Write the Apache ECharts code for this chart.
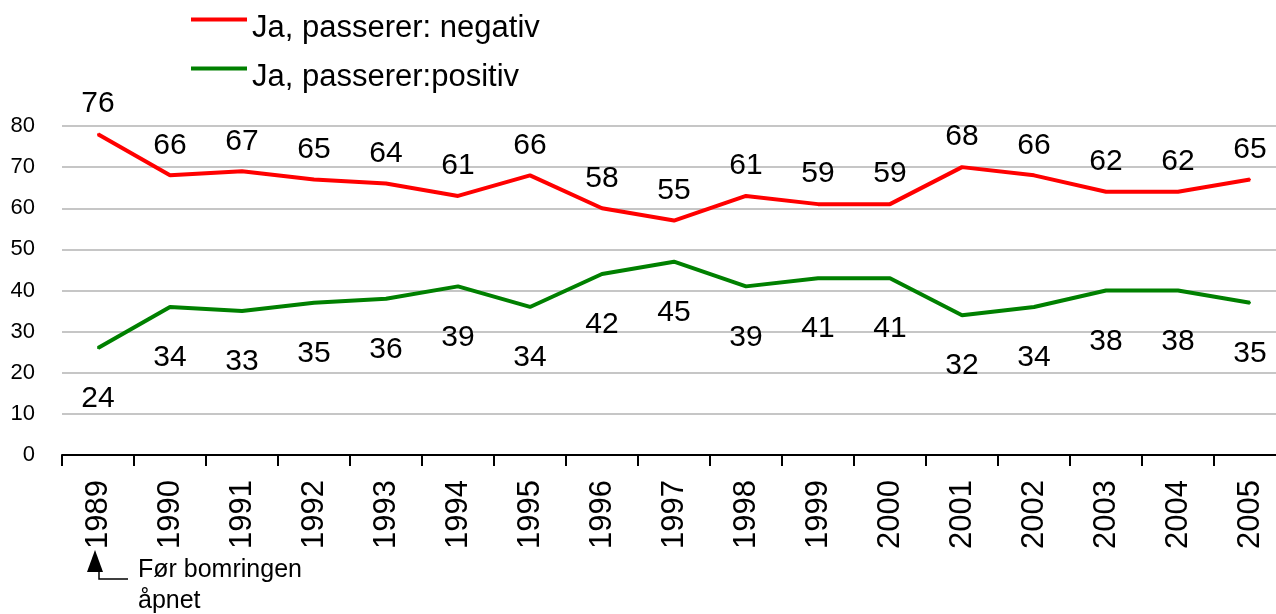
<!DOCTYPE html>
<html>
<head>
<meta charset="utf-8">
<script src="https://cdn.jsdelivr.net/npm/echarts@6/dist/echarts.min.js"></script>
<style>
  html, body { margin: 0; padding: 0; background: #fff; }
  #lineChart { width: 1276px; height: 614px; }
</style>
</head>
<body>
<div id="lineChart"></div>
<script>
const years = ['1989', '1990', '1991', '1992', '1993', '1994', '1995', '1996', '1997',
  '1998', '1999', '2000', '2001', '2002', '2003', '2004', '2005'];
// line positions as drawn in the picture
const negativLine = [78, 68, 69, 67, 66, 63, 68, 60, 57, 63, 61, 61, 70, 68, 64, 64, 67];
const positivLine = [26, 36, 35, 37, 38, 41, 36, 44, 47, 41, 43, 43, 34, 36, 40, 40, 37];
// printed data labels
const negativLabels = [76, 66, 67, 65, 64, 61, 66, 58, 55, 61, 59, 59, 68, 66, 62, 62, 65];
const positivLabels = [24, 34, 33, 35, 36, 39, 34, 42, 45, 39, 41, 41, 32, 34, 38, 38, 35];
const yTicks = [0, 80, 10]; // min, max, interval

const font = '"Liberation Sans", Arial, sans-serif';
let myChart = echarts.init(document.getElementById('lineChart'));

let option = {
  backgroundColor: '#fff',
  animation: false,
  textStyle: { fontFamily: font },
  legend: {
    orient: 'vertical',
    left: 191,
    top: -5,
    padding: 0,
    itemGap: 0,
    itemWidth: 56,
    itemHeight: 4,
    icon: 'rect',
    formatter: '{t|{name}}',
    textStyle: {
      rich: {
        t: {
          fontFamily: font,
          fontSize: 31,
          lineHeight: 30,
          color: '#000',
          padding: [18, 0, 0, 0]
        }
      }
    },
    data: ['Ja, passerer: negativ', 'Ja, passerer:positiv']
  },
  grid: {
    left: 62,
    top: 126,
    width: 1224,
    height: 329,
    outerBoundsMode: 'none'
  },
  xAxis: {
    type: 'category',
    data: years,
    boundaryGap: true,
    axisLine: { lineStyle: { color: '#000', width: 2 } },
    axisTick: { show: true, length: 11, lineStyle: { color: '#000', width: 2 } },
    axisLabel: {
      rotate: 90,
      interval: 0,
      margin: 25,
      color: '#000',
      fontFamily: font,
      fontSize: 31
    }
  },
  yAxis: {
    type: 'value',
    min: yTicks[0],
    max: yTicks[1],
    interval: yTicks[2],
    axisLine: { show: false },
    axisTick: { show: false },
    splitLine: { lineStyle: { color: '#c6c6c6', width: 2 } },
    axisLabel: {
      margin: 27,
      color: '#000',
      fontFamily: font,
      fontSize: 22
    }
  },
  series: [{
    name: 'Ja, passerer: negativ',
    type: 'line',
    data: negativLine,
    symbol: 'circle',
    symbolSize: 2,
    color: '#ff0000',
    lineStyle: { color: '#ff0000', width: 4 },
    label: {
      show: true,
      position: 'top',
      distance: 14,
      color: '#000',
      fontFamily: font,
      fontSize: 30,
      formatter: p => negativLabels[p.dataIndex]
    }
  }, {
    name: 'Ja, passerer:positiv',
    type: 'line',
    data: positivLine,
    symbol: 'circle',
    symbolSize: 2,
    color: '#008000',
    lineStyle: { color: '#008000', width: 4 },
    label: {
      show: true,
      position: 'bottom',
      distance: 35,
      color: '#000',
      fontFamily: font,
      fontSize: 30,
      formatter: p => positivLabels[p.dataIndex]
    }
  }],
  graphic: [{
    type: 'polygon',
    shape: { points: [[87, 572], [95, 550], [103, 572]] },
    style: { fill: '#000' }
  }, {
    type: 'polyline',
    shape: { points: [[99, 572], [99, 579], [128, 579]] },
    style: { stroke: '#000', lineWidth: 1.5, fill: null }
  }, {
    type: 'text',
    x: 138,
    y: 555,
    style: {
      text: 'Før bomringen\nåpnet',
      font: '25px ' + font,
      lineHeight: 31,
      fill: '#000'
    }
  }]
};

myChart.setOption(option);
</script>
</body>
</html>
